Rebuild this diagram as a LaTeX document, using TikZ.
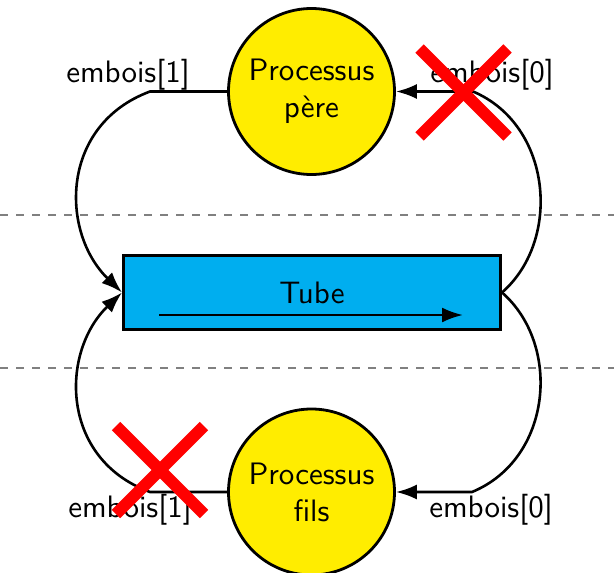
\documentclass[tikz,border=0pt]{standalone}
\usepackage{fontspec}
\newfontfamily\lmss{lmsans10-regular.otf}
\usetikzlibrary{arrows.meta}
\definecolor{procyellow}{RGB}{255,237,0}
\definecolor{tubeblue}{RGB}{0,174,239}
\definecolor{dashgray}{RGB}{128,128,128}
\begin{document}
\begin{tikzpicture}[x=1pt,y=-1pt,
  txt/.style={font=\lmss\fontsize{31}{37}\selectfont},
  proc/.style={circle, draw=black, line width=2.8pt, fill=procyellow, minimum size=166pt, inner sep=0pt, align=center, txt},
  tubebox/.style={draw=black, line width=3pt, fill=tubeblue, minimum width=377pt, minimum height=74pt, inner sep=0pt, txt},
  conn/.style={line width=2.6pt, black},
  tip/.style={-{Latex[length=21pt,width=15pt]}},
  sep/.style={dashgray, line width=2.8pt, dash pattern=on 8pt off 8pt},
  cross/.style={red, line width=12pt},
  lab/.style={txt, anchor=base, inner sep=0pt}]
\useasboundingbox (0,0) rectangle (614,573);
% separators
\draw[sep] (0,215) -- (614,215);
\draw[sep] (0,368) -- (614,368);
% nodes
\node[proc] (pere) at (311.5,91.5) {Processus\\père};
\node[proc] (fils) at (311.5,492) {Processus\\fils};
\node[tubebox] (tube) at (312,292.5) {Tube};
% tube arrow
\coordinate (ta) at (159,315);
\coordinate (tb) at (463,315);
\draw[conn,tip] (ta) -- (tb);
% connectors
\coordinate (tl) at (150,91.5);
\coordinate (bl) at (150,492);
\coordinate (tr) at (473,91.5);
\coordinate (br) at (472,492);
\draw[conn,tip] (pere.west) -- (tl) .. controls (60,125) and (60,232) .. (tube.west);
\draw[conn,tip] (fils.west) -- (bl) .. controls (60,459) and (60,352) .. (tube.west);
\draw[conn,tip] (tube.east) .. controls (562,240) and (552,125) .. (tr) -- (pere.east);
\draw[conn,tip] (tube.east) .. controls (562,345) and (552,459) .. (br) -- (fils.east);
% labels
\node[lab] (l1) at (128,82) {embois[1]};
\node[lab] (l2) at (492,82) {embois[0]};
\node[lab] (l3) at (130,517) {embois[1]};
\node[lab] (l4) at (491,517) {embois[0]};
% crosses
\coordinate (x1) at (463.5,92.5);
\coordinate (x2) at (160,470);
\draw[cross] (x1) ++(-44,-44) -- ++(88,88);
\draw[cross] (x1) ++(44,-44) -- ++(-88,88);
\draw[cross] (x2) ++(-44,-44) -- ++(88,88);
\draw[cross] (x2) ++(44,-44) -- ++(-88,88);
\end{tikzpicture}
\end{document}
